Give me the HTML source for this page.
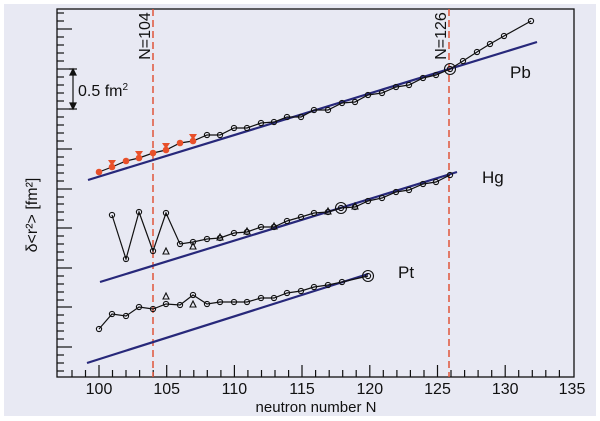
<!DOCTYPE html>
<html><head><meta charset="utf-8"><style>
html,body{margin:0;padding:0;background:#fff}
svg{display:block}
text{font-family:"Liberation Sans",sans-serif;fill:#111}
</style></head><body>
<svg width="600" height="421" viewBox="0 0 600 421" xmlns="http://www.w3.org/2000/svg">
<rect x="4" y="4" width="592" height="412" fill="#e8e9f3"/>
<rect x="57" y="9" width="517" height="368" fill="none" stroke="#111" stroke-width="1.3"/>
<g stroke="#111" stroke-width="1.2" id="yt">
<line x1="57" y1="13" x2="64" y2="13"/><line x1="57" y1="21" x2="64" y2="21"/>
<line x1="57" y1="29" x2="72" y2="29"/><line x1="57" y1="37" x2="64" y2="37"/><line x1="57" y1="45" x2="64" y2="45"/><line x1="57" y1="53" x2="64" y2="53"/><line x1="57" y1="61" x2="64" y2="61"/>
<line x1="57" y1="69" x2="72" y2="69"/><line x1="57" y1="77" x2="64" y2="77"/><line x1="57" y1="85" x2="64" y2="85"/><line x1="57" y1="93" x2="64" y2="93"/><line x1="57" y1="101" x2="64" y2="101"/>
<line x1="57" y1="109" x2="72" y2="109"/><line x1="57" y1="117" x2="64" y2="117"/><line x1="57" y1="125" x2="64" y2="125"/><line x1="57" y1="133" x2="64" y2="133"/><line x1="57" y1="141" x2="64" y2="141"/>
<line x1="57" y1="149" x2="72" y2="149"/><line x1="57" y1="157" x2="64" y2="157"/><line x1="57" y1="165" x2="64" y2="165"/><line x1="57" y1="173" x2="64" y2="173"/><line x1="57" y1="181" x2="64" y2="181"/>
<line x1="57" y1="189" x2="72" y2="189"/><line x1="57" y1="197" x2="64" y2="197"/><line x1="57" y1="204" x2="64" y2="204"/><line x1="57" y1="212" x2="64" y2="212"/><line x1="57" y1="220" x2="64" y2="220"/>
<line x1="57" y1="228" x2="72" y2="228"/><line x1="57" y1="236" x2="64" y2="236"/><line x1="57" y1="244" x2="64" y2="244"/><line x1="57" y1="252" x2="64" y2="252"/><line x1="57" y1="260" x2="64" y2="260"/>
<line x1="57" y1="268" x2="72" y2="268"/><line x1="57" y1="276" x2="64" y2="276"/><line x1="57" y1="284" x2="64" y2="284"/><line x1="57" y1="292" x2="64" y2="292"/><line x1="57" y1="300" x2="64" y2="300"/>
<line x1="57" y1="307" x2="72" y2="307"/><line x1="57" y1="315" x2="64" y2="315"/><line x1="57" y1="323" x2="64" y2="323"/><line x1="57" y1="331" x2="64" y2="331"/><line x1="57" y1="339" x2="64" y2="339"/>
<line x1="57" y1="347" x2="72" y2="347"/><line x1="57" y1="355" x2="64" y2="355"/><line x1="57" y1="363" x2="64" y2="363"/><line x1="57" y1="371" x2="64" y2="371"/>
</g>
<g stroke="#111" stroke-width="1.2">
<line x1="72" y1="377" x2="72" y2="370"/><line x1="85.5" y1="377" x2="85.5" y2="370"/>
<line x1="99" y1="377" x2="99" y2="365"/><line x1="112.5" y1="377" x2="112.5" y2="370"/><line x1="126" y1="377" x2="126" y2="370"/><line x1="139.6" y1="377" x2="139.6" y2="370"/><line x1="153.2" y1="377" x2="153.2" y2="370"/>
<line x1="166.7" y1="377" x2="166.7" y2="365"/><line x1="180.2" y1="377" x2="180.2" y2="370"/><line x1="193.8" y1="377" x2="193.8" y2="370"/><line x1="207.3" y1="377" x2="207.3" y2="370"/><line x1="220.9" y1="377" x2="220.9" y2="370"/>
<line x1="234.4" y1="377" x2="234.4" y2="365"/><line x1="247.9" y1="377" x2="247.9" y2="370"/><line x1="261.5" y1="377" x2="261.5" y2="370"/><line x1="275" y1="377" x2="275" y2="370"/><line x1="288.6" y1="377" x2="288.6" y2="370"/>
<line x1="302" y1="377" x2="302" y2="365"/><line x1="315.6" y1="377" x2="315.6" y2="370"/><line x1="329.2" y1="377" x2="329.2" y2="370"/><line x1="342.7" y1="377" x2="342.7" y2="370"/><line x1="356.2" y1="377" x2="356.2" y2="370"/>
<line x1="369.8" y1="377" x2="369.8" y2="365"/><line x1="383.3" y1="377" x2="383.3" y2="370"/><line x1="396.9" y1="377" x2="396.9" y2="370"/><line x1="410.4" y1="377" x2="410.4" y2="370"/><line x1="424" y1="377" x2="424" y2="370"/>
<line x1="437.5" y1="377" x2="437.5" y2="365"/><line x1="451" y1="377" x2="451" y2="370"/><line x1="464.6" y1="377" x2="464.6" y2="370"/><line x1="478.1" y1="377" x2="478.1" y2="370"/><line x1="491.7" y1="377" x2="491.7" y2="370"/>
<line x1="505.2" y1="377" x2="505.2" y2="365"/><line x1="518.7" y1="377" x2="518.7" y2="370"/><line x1="532.3" y1="377" x2="532.3" y2="370"/><line x1="545.8" y1="377" x2="545.8" y2="370"/><line x1="559.4" y1="377" x2="559.4" y2="370"/>
</g>
<g font-size="16" text-anchor="middle">
<text x="99" y="394">100</text><text x="166.7" y="394">105</text><text x="234.4" y="394">110</text><text x="302" y="394">115</text><text x="369.8" y="394">120</text><text x="437.5" y="394">125</text><text x="505.2" y="394">130</text><text x="572" y="394">135</text>
</g>
<text x="316" y="412" font-size="15" text-anchor="middle">neutron number N</text>
<text transform="translate(37,215) rotate(-90)" font-size="16" text-anchor="middle">δ&lt;r²&gt; [fm²]</text>
<line x1="153" y1="9" x2="153" y2="377" stroke="#e0553a" stroke-width="1.5" stroke-dasharray="7,4"/>
<line x1="449" y1="9" x2="449" y2="377" stroke="#e0553a" stroke-width="1.5" stroke-dasharray="7,4"/>
<rect x="137" y="12" width="15" height="48" fill="#e8e9f3"/>
<rect x="433" y="12" width="15" height="48" fill="#e8e9f3"/>
<text transform="translate(150,36) rotate(-90)" font-size="16" text-anchor="middle">N=104</text>
<text transform="translate(446,36) rotate(-90)" font-size="16" text-anchor="middle">N=126</text>
<g stroke="#111" stroke-width="1.2" fill="#111">
<line x1="73" y1="71" x2="73" y2="107"/>
<line x1="69" y1="69" x2="77" y2="69"/><line x1="69" y1="109" x2="77" y2="109"/>
<path d="M70,75 L73,69 L76,75 Z"/><path d="M70,103 L73,109 L76,103 Z"/>
</g>
<text x="78" y="96" font-size="16">0.5 fm<tspan font-size="10" dy="-6">2</tspan></text>
<text x="510" y="78" font-size="17">Pb</text>
<text x="482" y="183" font-size="17">Hg</text>
<text x="398" y="278" font-size="17">Pt</text>
<g stroke="#27287a" stroke-width="2.2">
<line x1="88" y1="180" x2="537" y2="42"/>
<line x1="100" y1="282" x2="457" y2="172"/>
<line x1="87" y1="363" x2="368" y2="274"/>
</g>
<polyline fill="none" stroke="#111" stroke-width="1.2" points="99,172 112,167 126,161 139,158 153,153 166,150 180,143 193,141 207,135 220,135 234,128 247,128 261,123 274,122 287,117 301,117 314,110 328,110 342,103 355,102 368,95 382,93 396,87 409,85 423,78 436,75 450,69 463,61 477,52 490,44 504,36 531,21"/>
<g fill="#e8502a">
<circle cx="99" cy="172" r="3.3"/><circle cx="126" cy="161" r="3.3"/><circle cx="153" cy="153" r="3.3"/><circle cx="180" cy="143" r="3.3"/>
<circle cx="112" cy="167" r="3.3"/><circle cx="139" cy="158" r="3.3"/><circle cx="166" cy="150" r="3.3"/><circle cx="193" cy="141" r="3.3"/>
<path d="M108,160 L116,160 L112,166Z"/><path d="M135,151 L143,151 L139,157Z"/><path d="M162,143 L170,143 L166,149Z"/><path d="M189,134 L197,134 L193,140Z"/>
</g>
<g fill="none" stroke="#111" stroke-width="1.1">
<circle cx="207" cy="135" r="2.6"/><circle cx="220" cy="135" r="2.6"/><circle cx="234" cy="128" r="2.6"/><circle cx="247" cy="128" r="2.6"/><circle cx="261" cy="123" r="2.6"/><circle cx="274" cy="122" r="2.6"/><circle cx="287" cy="117" r="2.6"/><circle cx="301" cy="117" r="2.6"/><circle cx="314" cy="110" r="2.6"/><circle cx="328" cy="110" r="2.6"/><circle cx="342" cy="103" r="2.6"/><circle cx="355" cy="102" r="2.6"/><circle cx="368" cy="95" r="2.6"/><circle cx="382" cy="93" r="2.6"/><circle cx="396" cy="87" r="2.6"/><circle cx="409" cy="85" r="2.6"/><circle cx="423" cy="78" r="2.6"/><circle cx="436" cy="75" r="2.6"/><circle cx="450" cy="69" r="2.6"/><circle cx="450" cy="69" r="5.5"/><circle cx="463" cy="61" r="2.6"/><circle cx="477" cy="52" r="2.6"/><circle cx="490" cy="44" r="2.6"/><circle cx="504" cy="36" r="2.6"/><circle cx="531" cy="21" r="2.6"/>
</g>
<polyline fill="none" stroke="#111" stroke-width="1.2" points="112,215 126,259 139,212 153,251 166,213 180,244 193,242 207,239 220,238 234,233 247,232 261,227 274,227 287,221 301,217 314,213 328,212 341,208 355,207 368,201 382,198 396,192 409,190 423,184 436,182 450,175"/>
<g fill="none" stroke="#111" stroke-width="1.1">
<circle cx="112" cy="215" r="2.6"/><circle cx="126" cy="259" r="2.6"/><circle cx="139" cy="212" r="2.6"/><circle cx="153" cy="251" r="2.6"/><circle cx="166" cy="213" r="2.6"/><circle cx="180" cy="244" r="2.6"/><circle cx="193" cy="242" r="2.6"/><circle cx="207" cy="239" r="2.6"/><circle cx="220" cy="238" r="2.6"/><circle cx="234" cy="233" r="2.6"/><circle cx="247" cy="232" r="2.6"/><circle cx="261" cy="227" r="2.6"/><circle cx="274" cy="227" r="2.6"/><circle cx="287" cy="221" r="2.6"/><circle cx="301" cy="217" r="2.6"/><circle cx="314" cy="213" r="2.6"/><circle cx="328" cy="212" r="2.6"/><circle cx="341" cy="208" r="2.6"/><circle cx="341" cy="208" r="5.5"/><circle cx="355" cy="207" r="2.6"/><circle cx="368" cy="201" r="2.6"/><circle cx="382" cy="198" r="2.6"/><circle cx="396" cy="192" r="2.6"/><circle cx="409" cy="190" r="2.6"/><circle cx="423" cy="184" r="2.6"/><circle cx="436" cy="182" r="2.6"/><circle cx="450" cy="175" r="2.6"/>
<path d="M163,254 L169,254 L166,248Z"/><path d="M190,249 L196,249 L193,243Z"/><path d="M217,240 L223,240 L220,234Z"/><path d="M244,234 L250,234 L247,228Z"/><path d="M271,229 L277,229 L274,223Z"/><path d="M325,214 L331,214 L328,208Z"/><path d="M352,209 L358,209 L355,203Z"/>
</g>
<polyline fill="none" stroke="#111" stroke-width="1.2" points="99,329 112,314 126,316 139,307 153,309 166,304 180,305 193,295 207,304 220,302 234,302 247,302 261,298 274,298 287,293 301,291 314,287 328,285 342,282 368,276"/>
<g fill="none" stroke="#111" stroke-width="1.1">
<circle cx="99" cy="329" r="2.6"/><circle cx="112" cy="314" r="2.6"/><circle cx="126" cy="316" r="2.6"/><circle cx="139" cy="307" r="2.6"/><circle cx="153" cy="309" r="2.6"/><circle cx="166" cy="304" r="2.6"/><circle cx="180" cy="305" r="2.6"/><circle cx="193" cy="295" r="2.6"/><circle cx="207" cy="304" r="2.6"/><circle cx="220" cy="302" r="2.6"/><circle cx="234" cy="302" r="2.6"/><circle cx="247" cy="302" r="2.6"/><circle cx="261" cy="298" r="2.6"/><circle cx="274" cy="298" r="2.6"/><circle cx="287" cy="293" r="2.6"/><circle cx="301" cy="291" r="2.6"/><circle cx="314" cy="287" r="2.6"/><circle cx="328" cy="285" r="2.6"/><circle cx="342" cy="282" r="2.6"/><circle cx="368" cy="276" r="2.6"/><circle cx="368" cy="276" r="5.5"/>
<path d="M163,299 L169,299 L166,293Z"/><path d="M190,307 L196,307 L193,301Z"/>
</g>
</svg>
</body></html>
